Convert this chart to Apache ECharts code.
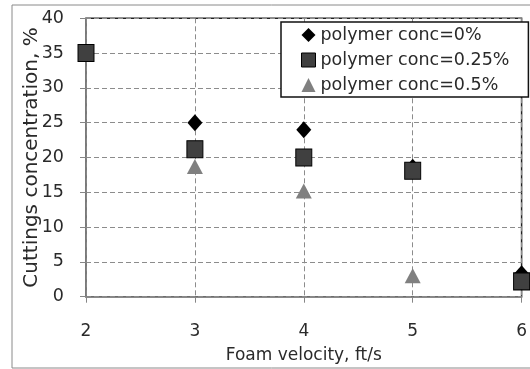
<!DOCTYPE html>
<html>
<head>
<meta charset="utf-8">
<script src="https://cdn.jsdelivr.net/npm/echarts@6/dist/echarts.min.js"></script>
<style>
  html, body { margin: 0; padding: 0; background: #fff; }
  #chart { width: 530px; height: 369px; }
</style>
</head>
<body>
<div id="chart"></div>
<script>
// Foam velocity (ft/s) on the x axis
const velocities = [2, 3, 4, 5, 6];
// Cuttings concentration (%) for each polymer concentration; null = no measurement
const conc0 = [null, 25, 24, 18.6, 3.3];
const conc025 = [35, 21.2, 20, 18.1, 2.2];
const conc05 = [null, 18.7, 15.2, 3.0, null];
const seriesNames = ['polymer conc=0%', 'polymer conc=0.25%', 'polymer conc=0.5%'];
const yTicks = [0, 5, 10, 15, 20, 25, 30, 35, 40];

function pairs(values) {
  const out = [];
  values.forEach((v, i) => { if (v !== null) out.push([velocities[i], v]); });
  return out;
}

const FONT = 'DejaVu Sans';
const TEXT = '#2a2a2a';
const chart = echarts.init(document.getElementById('chart'), null, { renderer: 'canvas' });

chart.setOption({
  animation: false,
  backgroundColor: '#fff',
  textStyle: { fontFamily: FONT },
  graphic: [{
    type: 'rect',
    shape: { x: 12, y: 5, width: 530, height: 363 },
    style: { fill: 'none', stroke: '#8a8a8a', lineWidth: 1 },
    z: -10
  }],
  grid: {
    left: 86, right: 3.3, top: 18.3, bottom: 72.3,
    show: true, borderColor: '#222', borderWidth: 1.5, backgroundColor: 'transparent'
  },
  legend: {
    orient: 'vertical',
    left: 281, top: 22,
    padding: [3, 19, 2, 20],
    backgroundColor: '#fff',
    borderColor: '#111', borderWidth: 1.5,
    itemWidth: 14, itemHeight: 14, itemGap: 5,
    textStyle: { fontFamily: FONT, fontSize: 17.5, color: TEXT, lineHeight: 20 },
    data: [
      { name: seriesNames[0], icon: 'diamond' },
      { name: seriesNames[1], icon: 'rect', itemStyle: { borderColor: '#000', borderWidth: 1 } },
      { name: seriesNames[2], icon: 'triangle' }
    ],
    z: 20
  },
  xAxis: {
    type: 'value', min: 2, max: 6, interval: 1,
    name: 'Foam velocity, ft/s', nameLocation: 'middle', nameGap: 50,
    nameMoveOverlap: false,
    nameTextStyle: { fontFamily: FONT, fontSize: 17, color: TEXT },
    axisLine: { show: true, onZero: false, lineStyle: { color: '#868686', width: 1.5 } },
    axisTick: { show: true, length: 6, lineStyle: { color: '#868686' } },
    axisLabel: { margin: 26, fontFamily: FONT, fontSize: 17, color: TEXT },
    splitLine: { show: true, lineStyle: { color: '#8c8c8c', type: [5, 3], width: 1 } }
  },
  yAxis: {
    type: 'value', min: 0, max: 40, interval: 5,
    name: 'Cuttings concentration, %', nameLocation: 'middle', nameGap: 44,
    nameMoveOverlap: false,
    nameTextStyle: { fontFamily: FONT, fontSize: 20, color: TEXT },
    axisLine: { show: true, onZero: false, lineStyle: { color: '#868686', width: 1.5 } },
    axisTick: { show: true, length: 6, lineStyle: { color: '#868686' } },
    axisLabel: {
      margin: 22, fontFamily: FONT, fontSize: 17.5, color: TEXT,
      formatter: v => (yTicks.indexOf(v) >= 0 ? String(v) : '')
    },
    splitLine: { show: true, lineStyle: { color: '#8c8c8c', type: [5, 3], width: 1 } }
  },
  series: [
    {
      name: seriesNames[0], type: 'scatter', symbol: 'diamond', symbolSize: [15, 17],
      itemStyle: { color: '#000', opacity: 1 }, z: 2,
      data: pairs(conc0)
    },
    {
      name: seriesNames[1], type: 'scatter', symbol: 'rect', symbolSize: [16, 17],
      itemStyle: { color: '#404040', borderColor: '#000', borderWidth: 1, opacity: 1 }, z: 4,
      data: pairs(conc025)
    },
    {
      name: seriesNames[2], type: 'scatter', symbol: 'triangle', symbolSize: [16, 15],
      itemStyle: { color: '#808080', opacity: 1 }, z: 3,
      data: pairs(conc05)
    }
  ]
});
</script>
</body>
</html>
